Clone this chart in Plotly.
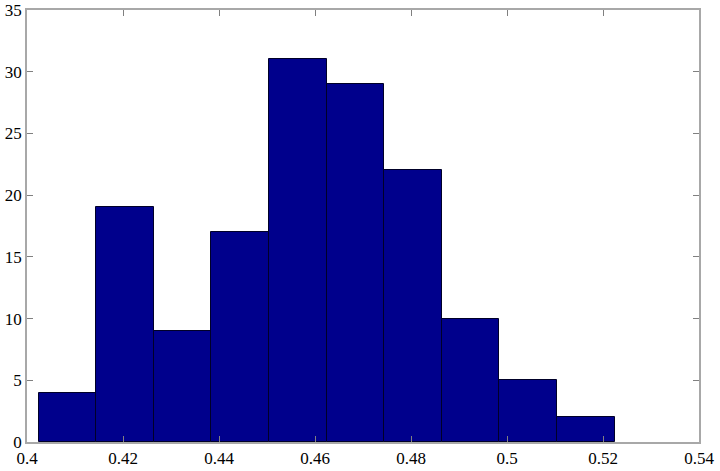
import plotly.graph_objects as go

bin_centers = [0.4084, 0.4204, 0.4324, 0.4444, 0.4564, 0.4684, 0.4804, 0.4924, 0.5044, 0.5164]
counts = [4, 19, 9, 17, 31, 29, 22, 10, 5, 2]
bin_width = 0.0120
x_ticks = [0.4, 0.42, 0.44, 0.46, 0.48, 0.5, 0.52, 0.54]
x_tick_labels = ["0.4", "0.42", "0.44", "0.46", "0.48", "0.5", "0.52", "0.54"]
y_ticks = [0, 5, 10, 15, 20, 25, 30, 35]

fig = go.Figure(go.Bar(
    x=bin_centers, y=counts, width=bin_width,
    marker=dict(color="rgb(0,0,140)", line=dict(color="rgb(0,0,40)", width=1)),
))

axis_common = dict(
    showgrid=False, zeroline=False, showline=True, linecolor="#a8a8a8", linewidth=1.5,
    mirror="ticks", ticks="inside", ticklen=6, tickcolor="#808080",
    automargin=False,
    tickfont=dict(family="Liberation Serif", size=17, color="black"),
)
fig.update_xaxes(range=[0.4, 0.54], tickvals=x_ticks, ticktext=x_tick_labels, **axis_common)
fig.update_yaxes(range=[0, 35], tickvals=y_ticks, **axis_common)

fig.update_layout(
    width=720, height=471,
    margin=dict(l=27, r=21, t=10, b=29),
    plot_bgcolor="white", paper_bgcolor="white",
    font=dict(family="Liberation Serif"),
    bargap=0, showlegend=False,
)
fig.write_html(
    "out.html",
    config={"displayModeBar": False},
    post_script="document.body.style.margin='0';document.body.style.overflow='hidden';",
)
